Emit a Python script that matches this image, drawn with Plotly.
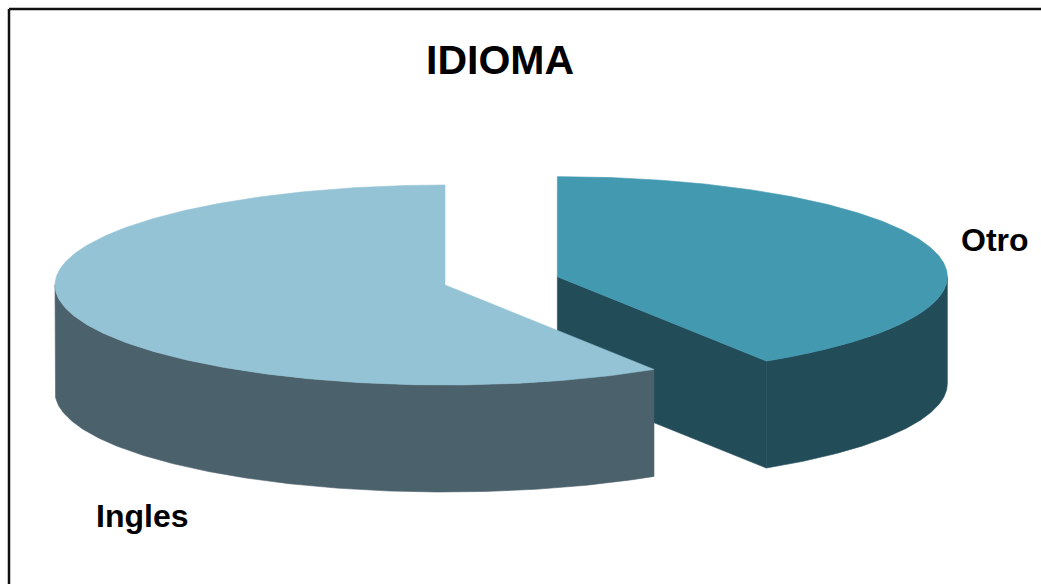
import numpy as np
import plotly.graph_objects as go

# ---- data ----
labels = ["Otro", "Ingles"]
values = [41, 59]
title_text = "IDIOMA"

# ---- style ----
top_colors = ["#4399B0", "#94C3D5"]
side_colors = ["#234C59", "#4B626C"]
explode = [0.3, 0.0]

W, H = 1041, 584       # window size
CX, CY = 445, 285      # pie centre (screen px)
A, B = 390, 100        # ellipse radii
DEPTH = 107            # thickness of the 3D pie

def pt(cx, cy, th):
    return cx + A * np.sin(th), cy - B * np.cos(th)

fig = go.Figure()

total = float(sum(values))
angles = np.concatenate([[0.0], np.cumsum(values) / total * 2 * np.pi])

def poly(xs, ys, color, name):
    fig.add_trace(go.Scatter(
        x=list(xs) + [xs[0]], y=list(ys) + [ys[0]],
        mode="lines", fill="toself", fillcolor=color,
        line=dict(color=color, width=0.6), hoverinfo="text", text=name,
        showlegend=False))

for i, (lab, val) in enumerate(zip(labels, values)):
    ts, te = angles[i], angles[i + 1]
    mid = (ts + te) / 2
    cx = CX + explode[i] * A * np.sin(mid)
    cy = CY - explode[i] * B * np.cos(mid)

    # radial faces
    for th, phi in ((ts, ts - np.pi / 2), (te, te + np.pi / 2)):
        if np.cos(phi) < -1e-6:
            ex, ey = pt(cx, cy, th)
            poly([cx, ex, ex, cx], [cy, ey, ey + DEPTH, cy + DEPTH], side_colors[i], lab)

    # outer wall (front half only)
    a0, a1 = max(ts, np.pi / 2), min(te, 3 * np.pi / 2)
    if a1 > a0:
        th = np.linspace(a0, a1, 200)
        xs, ys = pt(cx, cy, th)
        px = np.concatenate([xs, xs[::-1]])
        py = np.concatenate([ys, (ys + DEPTH)[::-1]])
        poly(px, py, side_colors[i], lab)

    # top face
    th = np.linspace(ts, te, 300)
    xs, ys = pt(cx, cy, th)
    poly(np.concatenate([[cx], xs]), np.concatenate([[cy], ys]), top_colors[i], lab)

font_family = "Liberation Sans, Arial, sans-serif"
fig.add_annotation(x=500, y=60, text="<b>%s</b>" % title_text, showarrow=False,
                   font=dict(family=font_family, size=41, color="black"),
                   xanchor="center", yanchor="middle")
label_pos = [(995, 240), (142, 516)]
for lab, (lx, ly) in zip(labels, label_pos):
    fig.add_annotation(x=lx, y=ly, text="<b>%s</b>" % lab, showarrow=False,
                       font=dict(family=font_family, size=32, color="black"),
                       xanchor="center", yanchor="middle")

# chart frame (top and left edges visible)
fig.add_shape(type="line", x0=9, y0=9, x1=W, y1=9, line=dict(color="#111111", width=2.5))
fig.add_shape(type="line", x0=9, y0=9, x1=9, y1=H, line=dict(color="#111111", width=2.5))

fig.update_layout(
    width=W, height=H,
    margin=dict(l=0, r=0, t=0, b=0),
    paper_bgcolor="white", plot_bgcolor="white",
    xaxis=dict(range=[0, W], visible=False, fixedrange=True),
    yaxis=dict(range=[H, 0], visible=False, fixedrange=True),
    showlegend=False,
)

fig.write_html(
    "out.html",
    config={"displayModeBar": False},
    post_script="document.body.style.margin='0px';document.body.style.overflow='hidden';",
)
